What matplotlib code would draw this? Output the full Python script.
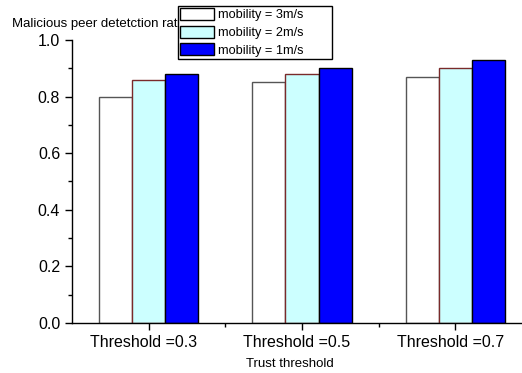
import numpy as np
import matplotlib.pyplot as plt
import matplotlib.transforms as mtransforms
from matplotlib.ticker import MultipleLocator

plt.rcParams['font.family'] = ['Liberation Sans', 'DejaVu Sans']

categories = ['Threshold =0.3', 'Threshold =0.5', 'Threshold =0.7']
series_names = ['mobility = 3m/s', 'mobility = 2m/s', 'mobility = 1m/s']
v3 = [0.80, 0.85, 0.87]
v2 = [0.86, 0.88, 0.90]
v1 = [0.88, 0.90, 0.93]

colors = ['white', '#ccffff', '#0000ff']
edges = ['#555555', '#7a2a2a', 'black']

W, H = 522, 373
fig = plt.figure(figsize=(W / 100, H / 100), dpi=100)
ax = fig.add_axes([72 / W, 1 - 323 / H, (532 - 72) / W, (323 - 40) / H])

x = np.arange(len(categories))
w = 0.216
for i, (vals, c, e, lab) in enumerate(zip([v3, v2, v1], colors, edges, series_names)):
    ax.bar(x + (i - 1) * w, vals, w, color=c, edgecolor=e, linewidth=1.0, label=lab, zorder=2)

ax.set_xlim(-0.5, 2.5)
ax.set_ylim(0, 1.0)
ax.yaxis.set_major_locator(MultipleLocator(0.2))
ax.yaxis.set_minor_locator(MultipleLocator(0.1))
ax.set_xticks(x)
ax.set_xticklabels(categories, fontsize=11.5)
ax.set_xticks([0.5, 1.5], minor=True)
ax.tick_params(axis='y', labelsize=11.5, length=5, width=1)
ax.tick_params(axis='y', which='minor', length=3, width=1)
ax.tick_params(axis='x', length=5, width=1)
ax.tick_params(axis='x', which='minor', length=3, width=1)
ax.set_yticklabels(['%.1f' % t for t in ax.get_yticks()])
# labels sit a bit left of the ticks in the original
shift = mtransforms.ScaledTranslation(-5 / 100, 0, fig.dpi_scale_trans)
for lbl in ax.get_xticklabels():
    lbl.set_transform(lbl.get_transform() + shift)
for s in ['top', 'right']:
    ax.spines[s].set_visible(False)
for s in ['left', 'bottom']:
    ax.spines[s].set_linewidth(1.0)

ax.set_xlabel('Trust threshold', fontsize=9.5, labelpad=6)
ax.xaxis.label.set_x((290 - 72) / 460)
fig.text(12 / W, 1 - 24 / H, 'Malicious peer detetction ratio', fontsize=9.5, va='center', ha='left')

leg = fig.legend(loc='upper left', bbox_to_anchor=(178 / W, 1 - 57 / H, 154 / W, 51 / H),
                 mode='expand', fontsize=9.2,
                 frameon=True, fancybox=False, edgecolor='black', framealpha=1,
                 handlelength=2.65, handleheight=1.05, handletextpad=0.3,
                 borderpad=0.15, labelspacing=0.35, borderaxespad=0)
for p in leg.get_patches():
    p.set_edgecolor('black')
leg.get_frame().set_linewidth(1.0)

fig.savefig('out.png', dpi=100)
